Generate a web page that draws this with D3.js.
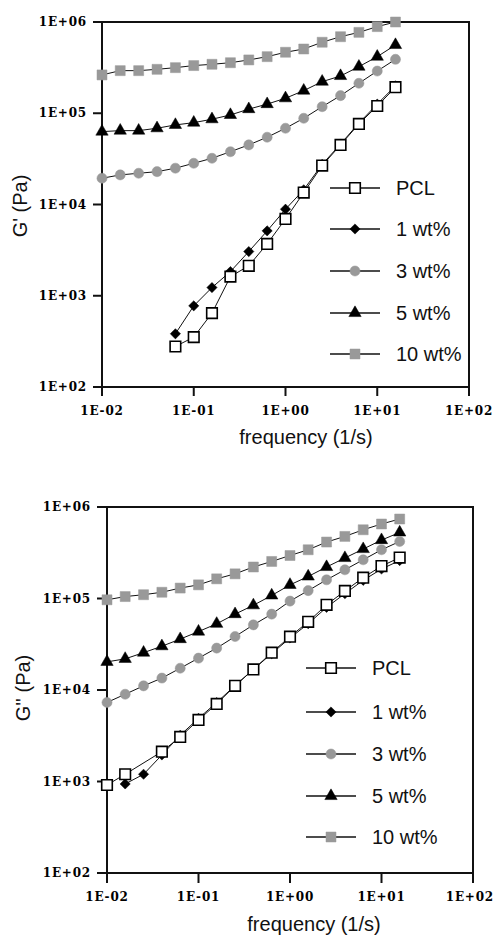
<!DOCTYPE html>
<html>
<head>
<meta charset="utf-8">
<script src="https://cdn.jsdelivr.net/npm/d3@7"></script>
<style>
  html, body { margin: 0; padding: 0; background: #fff; }
  svg { display: block; }
  .tick-label { font-family: "DejaVu Serif", serif; font-weight: bold; font-size: 12px; letter-spacing: 0.8px; fill: #000; }
  .txt { font-family: "Liberation Sans", Arial, sans-serif; font-size: 20px; fill: #111; }
</style>
</head>
<body>
<div id="chart"></div>
<script>
// frequencies (1/s), 5 points per decade
const freq = [0.01, 0.0158, 0.0251, 0.0398, 0.0631, 0.1, 0.158, 0.251, 0.398, 0.631,
              1, 1.58, 2.51, 3.98, 6.31, 10, 15.8];

const seriesNames = ['PCL', '1 wt%', '3 wt%', '5 wt%', '10 wt%'];

// storage modulus G' (Pa)
const gPrimePCL = [null, null, null, null, 278, 352, 645, 1620, 2130, 3700, 6950, 13500, 26700, 45000, 76400, 120000, 193000];
const gPrime1   = [null, null, null, null, 383, 775, 1230, 1840, 3050, 5140, 8880, 14500, 27500, 46000, 78000, 126000, 200000];
const gPrime3   = [19400, 21100, 22000, 22900, 25000, 28300, 32100, 37900, 45000, 54600, 68500, 88100, 118000, 156000, 213000, 290000, 390000];
const gPrime5   = [62900, 64500, 64500, 68500, 74500, 78900, 86000, 95800, 111000, 126000, 146000, 177000, 222000, 256000, 324000, 417000, 560000];
const gPrime10  = [263000, 293000, 293000, 303000, 316000, 333000, 344000, 358000, 384000, 417000, 466000, 506000, 600000, 690000, 770000, 890000, 1000000];

// loss modulus G'' (Pa)
const gDoublePCL = [916, 1200, null, 2120, 3070, 4710, 7050, 11100, 16800, 25600, 38300, 55600, 85300, 121000, 169000, 226000, 280000];
const gDouble1   = [null, 940, 1200, 1950, 3200, 4900, 7300, 11200, 16800, 25000, 37000, 53000, 80000, 113000, 158000, 210000, 260000];
const gDouble3   = [7310, 8990, 11100, 13500, 17300, 22300, 28700, 38400, 51500, 67500, 93700, 122000, 160000, 206000, 265000, 341000, 420000];
const gDouble5   = [20300, 21900, 25600, 30100, 36000, 43500, 52900, 67500, 84300, 108000, 141000, 174000, 221000, 277000, 347000, 435000, 527000];
const gDouble10  = [96800, 105000, 110000, 117000, 130000, 141000, 164000, 186000, 221000, 254000, 295000, 341000, 414000, 477000, 564000, 652000, 739000];

const xTicks = [0.01, 0.1, 1, 10, 100];
const xTickLabels = ['1E-02', '1E-01', '1E+00', '1E+01', '1E+02'];
const yTicks = [100, 1000, 10000, 100000, 1000000];
const yTickLabels = ['1E+02', '1E+03', '1E+04', '1E+05', '1E+06'];

const width = 495, height = 936;
const svg = d3.select('#chart').append('svg')
    .attr('width', width)
    .attr('height', height);

// marker styles per series (diamond = square turned 45deg)
const styles = [
    { type: d3.symbolSquare,   size: 112, fill: '#fff', stroke: '#000', sw: 1.6, rot: 0 },
    { type: d3.symbolSquare,   size: 52,  fill: '#000', stroke: '#000', sw: 0.5, rot: 45 },
    { type: d3.symbolCircle,   size: 80,  fill: '#999', stroke: '#999', sw: 0.5, rot: 0 },
    { type: d3.symbolTriangle, size: 66,  fill: '#000', stroke: '#000', sw: 0.5, rot: 0 },
    { type: d3.symbolSquare,   size: 100, fill: '#999', stroke: '#999', sw: 0.5, rot: 0 }
];

function drawPanel(cfg) {
    const g = svg.append('g');
    const x = d3.scaleLog().domain([0.01, 100]).range([cfg.left, cfg.right]);
    const y = d3.scaleLog().domain([100, 1000000]).range([cfg.bottom, cfg.top]);

    // frame
    g.append('rect')
        .attr('x', cfg.left).attr('y', cfg.top)
        .attr('width', cfg.right - cfg.left)
        .attr('height', cfg.bottom - cfg.top)
        .attr('fill', 'none')
        .attr('stroke', '#111')
        .attr('stroke-width', 2);

    // y ticks
    yTicks.forEach((t, i) => {
        g.append('line')
            .attr('x1', cfg.left - cfg.tick).attr('x2', cfg.left)
            .attr('y1', y(t)).attr('y2', y(t))
            .attr('stroke', '#111').attr('stroke-width', 2);
        g.append('text')
            .attr('class', 'tick-label')
            .attr('x', cfg.left - cfg.tick - 6)
            .attr('y', y(t) + 4)
            .attr('text-anchor', 'end')
            .text(yTickLabels[i]);
    });

    // x ticks (last label kept inside the window)
    xTicks.forEach((t, i) => {
        g.append('line')
            .attr('x1', x(t)).attr('x2', x(t))
            .attr('y1', cfg.bottom).attr('y2', cfg.bottom + cfg.tick)
            .attr('stroke', '#111').attr('stroke-width', 2);
        const lbl = g.append('text')
            .attr('class', 'tick-label')
            .attr('x', x(t))
            .attr('y', cfg.bottom + 28)
            .attr('text-anchor', 'middle')
            .text(xTickLabels[i]);
        const bb = lbl.node().getBBox();
        if (bb.x + bb.width > width - 1) lbl.attr('x', x(t) - (bb.x + bb.width - width + 1));
    });

    // axis titles
    g.append('text')
        .attr('class', 'txt')
        .attr('x', cfg.xTitleX)
        .attr('y', cfg.xTitleY)
        .attr('text-anchor', 'middle')
        .text('frequency (1/s)');
    g.append('text')
        .attr('class', 'txt')
        .attr('transform', `translate(${cfg.yTitleX},${cfg.yTitleY}) rotate(-90)`)
        .attr('text-anchor', 'middle')
        .text(cfg.yTitle);

    const line = d3.line().x(d => x(d[0])).y(d => y(d[1]));

    // draw 10 wt% first, PCL last
    const order = [4, 3, 2, 1, 0];
    order.forEach(si => {
        const pts = freq.map((f, k) => [f, cfg.series[si][k]]).filter(d => d[1] != null);
        g.append('path')
            .attr('d', line(pts))
            .attr('fill', 'none')
            .attr('stroke', '#111')
            .attr('stroke-width', 1);
        const st = styles[si];
        g.selectAll(null).data(pts).enter().append('path')
            .attr('transform', d => `translate(${x(d[0])},${y(d[1])}) rotate(${st.rot})`)
            .attr('d', d3.symbol().type(st.type).size(st.size))
            .attr('fill', st.fill)
            .attr('stroke', st.stroke)
            .attr('stroke-width', st.sw);
    });

    // legend
    seriesNames.forEach((name, si) => {
        const ly = cfg.legendY[si];
        const st = styles[si];
        g.append('line')
            .attr('x1', cfg.legendX).attr('x2', cfg.legendX + cfg.legendLen)
            .attr('y1', ly).attr('y2', ly)
            .attr('stroke', '#111').attr('stroke-width', 1.6);
        g.append('path')
            .attr('transform', `translate(${cfg.legendX + cfg.legendLen / 2},${ly}) rotate(${st.rot})`)
            .attr('d', d3.symbol().type(st.type).size(st.size))
            .attr('fill', st.fill)
            .attr('stroke', st.stroke)
            .attr('stroke-width', st.sw);
        g.append('text')
            .attr('class', 'txt')
            .attr('x', cfg.legendX + cfg.legendLen + 16)
            .attr('y', ly + 7)
            .text(name);
    });
}

drawPanel({
    left: 102, right: 469, top: 22, bottom: 387,
    tick: 9,
    series: [gPrimePCL, gPrime1, gPrime3, gPrime5, gPrime10],
    yTitle: "G' (Pa)", yTitleX: 27, yTitleY: 206,
    xTitleX: 306, xTitleY: 444,
    legendX: 330, legendLen: 50,
    legendY: [188, 229, 271, 313, 354]
});

drawPanel({
    left: 107, right: 473, top: 507, bottom: 873,
    tick: 10,
    series: [gDoublePCL, gDouble1, gDouble3, gDouble5, gDouble10],
    yTitle: "G'' (Pa)", yTitleX: 30, yTitleY: 688,
    xTitleX: 314, xTitleY: 931,
    legendX: 306, legendLen: 50,
    legendY: [668, 712, 754, 796, 837]
});
</script>
</body>
</html>
